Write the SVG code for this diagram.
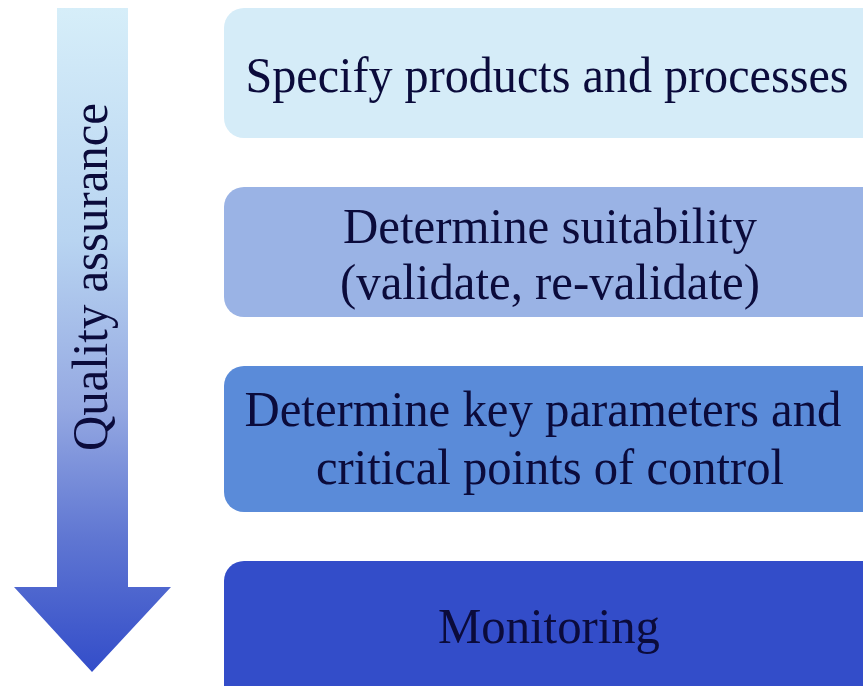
<svg xmlns="http://www.w3.org/2000/svg" width="863" height="686" viewBox="0 0 863 686">
<defs>
<linearGradient id="ag" x1="0" y1="0" x2="0" y2="1">
<stop offset="0" stop-color="#D6EEF9"/>
<stop offset="0.35" stop-color="#B8D4F1"/>
<stop offset="0.6" stop-color="#95A9E2"/>
<stop offset="0.8" stop-color="#5F76D2"/>
<stop offset="1" stop-color="#334DC9"/>
</linearGradient>
</defs>
<style>
text{font-family:"Liberation Serif","Times New Roman",serif;font-size:50px;fill:#0B0B3B;text-anchor:middle}
</style>
<rect width="863" height="686" fill="#FFFFFF"/>
<g id="arrow">
<path d="M57,8 H128 V587 H171 L92,672 L14,587 H57 Z" fill="url(#ag)"/>
<text transform="translate(107,277) rotate(-90)" textLength="348" lengthAdjust="spacingAndGlyphs">Quality assurance</text>
</g>
<g id="connectors"></g>
<g id="n1">
<rect x="224" y="8" width="660" height="130" rx="20" fill="#D5ECF8"/>
<text x="547" y="92" textLength="603" lengthAdjust="spacingAndGlyphs">Specify products and processes</text>
</g>
<g id="n2">
<rect x="224" y="187" width="660" height="130" rx="20" fill="#9AB3E5"/>
<text x="550" y="243" textLength="414" lengthAdjust="spacingAndGlyphs">Determine suitability</text>
<text x="550" y="299" textLength="420" lengthAdjust="spacingAndGlyphs">(validate, re-validate)</text>
</g>
<g id="n3">
<rect x="224" y="366" width="660" height="146" rx="20" fill="#5A8BD9"/>
<text x="543" y="426" textLength="597" lengthAdjust="spacingAndGlyphs">Determine key parameters and</text>
<text x="550" y="484" textLength="468" lengthAdjust="spacingAndGlyphs">critical points of control</text>
</g>
<g id="n4">
<rect x="224" y="561" width="660" height="150" rx="20" fill="#334DC9"/>
<text x="549" y="643" textLength="222" lengthAdjust="spacingAndGlyphs">Monitoring</text>
</g>
</svg>
